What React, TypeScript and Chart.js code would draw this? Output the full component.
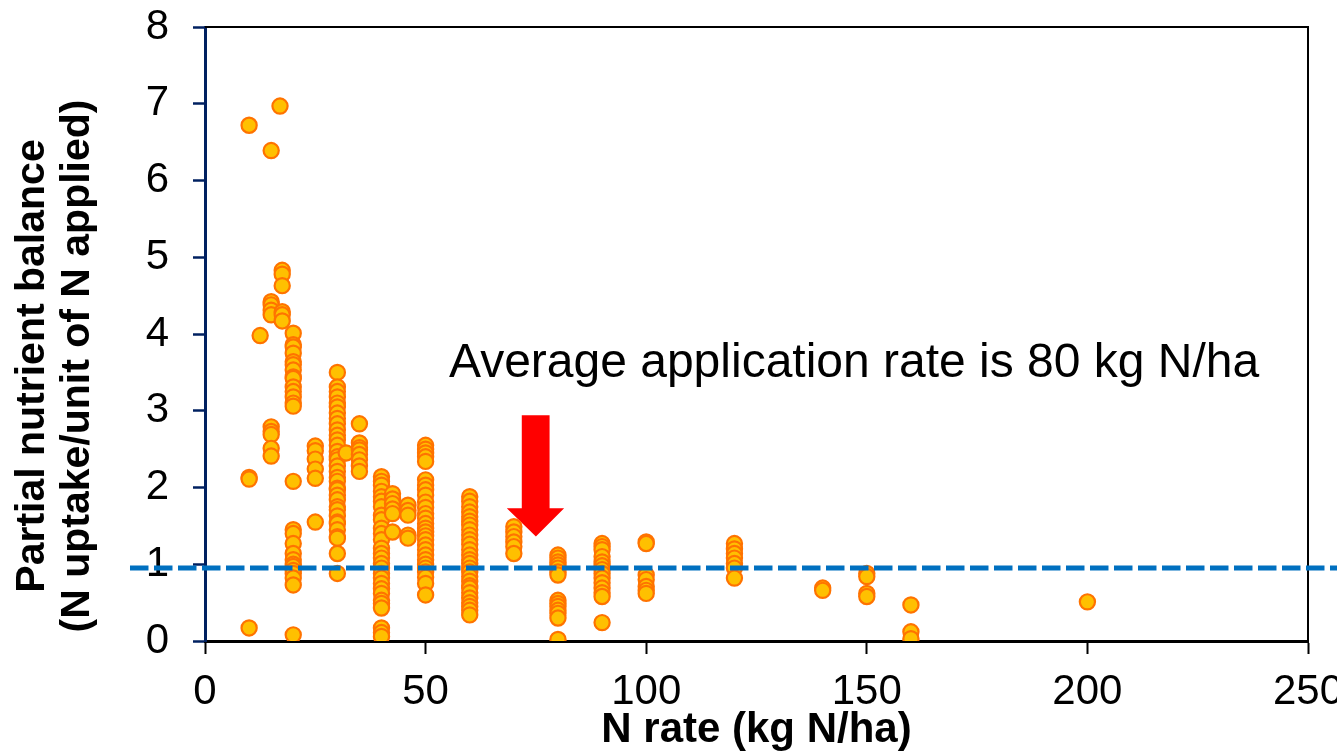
import React, { useEffect, useRef } from 'react';
import { Chart, registerables } from 'chart.js';

Chart.register(...registerables);

// N application rates (kg N/ha), one column of points per rate
const rates: number[] = [10, 12.5, 15, 17, 17.5, 20, 25, 30, 32, 35, 40, 42.5, 46, 50, 60, 70, 80, 90, 100, 120, 140, 150, 160, 200];

// Partial nutrient balance values observed at each rate (same order as rates)
const balanceByRate: number[][] = [
  [6.72, 2.13, 2.11, 0.17],
  [3.98],
  [6.39, 4.42, 4.38, 4.31, 4.25, 2.79, 2.73, 2.69, 2.51, 2.41],
  [6.97],
  [4.83, 4.78, 4.63, 4.29, 4.25, 4.17],
  [4.01, 3.86, 3.83, 3.75, 3.64, 3.6, 3.53, 3.44, 3.42, 3.31, 3.25, 3.18, 3.1, 3.06, 2.08, 1.45, 1.4, 1.27, 1.14, 1.06, 1.0, 0.97, 0.92, 0.88, 0.82, 0.73, 0.08],
  [2.54, 2.48, 2.37, 2.24, 2.12, 1.55],
  [3.5, 3.31, 3.25, 3.18, 3.1, 3.05, 2.97, 2.9, 2.83, 2.75, 2.68, 2.62, 2.55, 2.47, 2.4, 2.36, 2.28, 2.21, 2.13, 2.08, 1.99, 1.97, 1.9, 1.84, 1.75, 1.71, 1.63, 1.55, 1.53, 1.45, 1.36, 1.34, 1.14, 0.88],
  [2.45],
  [2.83, 2.58, 2.52, 2.49, 2.43, 2.36, 2.28, 2.21],
  [2.14, 2.08, 2.03, 1.95, 1.88, 1.82, 1.75, 1.64, 1.58, 1.47, 1.4, 1.32, 1.21, 1.14, 1.08, 1.01, 0.95, 0.88, 0.82, 0.75, 0.68, 0.62, 0.53, 0.49, 0.43, 0.17, 0.11, 0.06],
  [1.92, 1.85, 1.79, 1.72, 1.66, 1.42],
  [1.77, 1.7, 1.64, 1.38, 1.34],
  [2.55, 2.5, 2.45, 2.4, 2.34, 2.1, 2.03, 1.97, 1.9, 1.81, 1.74, 1.66, 1.6, 1.53, 1.47, 1.42, 1.37, 1.32, 1.25, 1.19, 1.12, 1.06, 1.0, 0.95, 0.9, 0.83, 0.75, 0.6],
  [1.88, 1.82, 1.75, 1.68, 1.62, 1.56, 1.51, 1.45, 1.38, 1.32, 1.26, 1.19, 1.12, 1.06, 1.01, 0.95, 0.9, 0.84, 0.78, 0.72, 0.69, 0.63, 0.56, 0.5, 0.45, 0.4, 0.34],
  [1.49, 1.42, 1.36, 1.29, 1.23, 1.14],
  [1.12, 1.08, 1.03, 0.99, 0.95, 0.9, 0.86, 0.53, 0.49, 0.45, 0.4, 0.36, 0.3, 0.02],
  [1.27, 1.23, 1.19, 1.1, 1.03, 0.98, 0.93, 0.88, 0.82, 0.76, 0.69, 0.63, 0.58, 0.24],
  [1.29, 1.27, 0.86, 0.8, 0.71, 0.66, 0.62],
  [1.27, 1.2, 1.14, 1.08, 1.01, 0.95, 0.82],
  [0.69, 0.66],
  [0.88, 0.84, 0.62, 0.58],
  [0.47, 0.12, 0.03],
  [0.51],
];

const xMin = 0;
const xMax = 250;
const xStep = 50;
const yMin = 0;
const yMax = 8;
const yStep = 1;

const xTitle = 'N rate (kg N/ha)';
const yTitle = ['Partial nutrient balance', '(N uptake/unit of N applied)'];

// Reference line (PNB ~ 1) and annotation
const referenceLevel = 0.95;
const referenceStartX = -17;
const annotationText = 'Average application rate is 80 kg N/ha';
const annotationX = 55.3;
const annotationY = 3.44;
// Arrow geometry in data units
const arrowTipX = 75;
const arrowTipY = 1.36;
const arrowTopY = 2.94;
const arrowHeadBaseY = 1.73;
const arrowShaftLeft = 71.8;
const arrowShaftRight = 78.1;
const arrowHeadLeft = 68.4;
const arrowHeadRight = 81.4;

const FONT = '"Liberation Sans", Arial, sans-serif';

const overlayPlugin = {
  id: 'overlay',
  beforeDatasetsDraw(chart: any) {
    const { ctx, chartArea: a, scales } = chart;
    const x = scales.x;
    const y = scales.y;
    ctx.save();
    // frame (top + right)
    ctx.strokeStyle = '#000000';
    ctx.lineWidth = 2;
    ctx.beginPath();
    ctx.moveTo(a.left, a.top);
    ctx.lineTo(a.right, a.top);
    ctx.lineTo(a.right, a.bottom);
    ctx.stroke();
    // annotation text
    ctx.fillStyle = '#000000';
    ctx.font = `48px ${FONT}`;
    ctx.textAlign = 'left';
    ctx.textBaseline = 'alphabetic';
    ctx.fillText(annotationText, x.getPixelForValue(annotationX), y.getPixelForValue(annotationY));
    // arrow
    const px = (v: number) => x.getPixelForValue(v);
    const py = (v: number) => y.getPixelForValue(v);
    ctx.fillStyle = '#FF0000';
    ctx.beginPath();
    ctx.moveTo(px(arrowShaftLeft), py(arrowTopY));
    ctx.lineTo(px(arrowShaftRight), py(arrowTopY));
    ctx.lineTo(px(arrowShaftRight), py(arrowHeadBaseY));
    ctx.lineTo(px(arrowHeadRight), py(arrowHeadBaseY));
    ctx.lineTo(px(arrowTipX), py(arrowTipY));
    ctx.lineTo(px(arrowHeadLeft), py(arrowHeadBaseY));
    ctx.lineTo(px(arrowShaftLeft), py(arrowHeadBaseY));
    ctx.closePath();
    ctx.fill();
    // y-axis title (two centred lines, rotated)
    ctx.fillStyle = '#000000';
    ctx.translate(0, 366);
    ctx.rotate(-Math.PI / 2);
    ctx.font = `bold 41px ${FONT}`;
    ctx.textAlign = 'center';
    ctx.textBaseline = 'alphabetic';
    ctx.fillText(yTitle[0], 0, 44);
    ctx.fillText(yTitle[1], 0, 89);
    ctx.restore();
  },
  afterDatasetsDraw(chart: any) {
    const { ctx, scales, width } = chart;
    const x = scales.x;
    const y = scales.y;
    ctx.save();
    const yy = y.getPixelForValue(referenceLevel);
    ctx.strokeStyle = '#0070C0';
    ctx.lineWidth = 5;
    ctx.setLineDash([18.5, 5.5]);
    ctx.beginPath();
    ctx.moveTo(x.getPixelForValue(referenceStartX), yy);
    ctx.lineTo(width, yy);
    ctx.stroke();
    ctx.restore();
  },
};

export default function App() {
  const canvasRef = useRef<HTMLCanvasElement | null>(null);

  useEffect(() => {
    const canvas = canvasRef.current;
    if (!canvas) return;
    const points: { x: number; y: number }[] = [];
    rates.forEach((r, i) => {
      balanceByRate[i].forEach((v) => points.push({ x: r, y: v }));
    });

    const chart = new Chart(canvas, {
      type: 'scatter',
      data: {
        datasets: [
          {
            label: 'PNB',
            data: points,
            backgroundColor: '#FFC000',
            borderColor: '#FF7300',
            pointBackgroundColor: '#FFC000',
            pointBorderColor: '#FF7300',
            pointBorderWidth: 2.2,
            pointRadius: 7.6,
            pointHoverRadius: 7.6,
          },
        ],
      },
      options: {
        responsive: false,
        animation: false,
        devicePixelRatio: 1,
        layout: { padding: { left: 0, right: 29, top: 27, bottom: 0 } },
        plugins: {
          legend: { display: false },
          tooltip: { enabled: false },
        },
        scales: {
          x: {
            type: 'linear',
            min: xMin,
            max: xMax,
            ticks: {
              stepSize: xStep,
              color: '#000000',
              padding: 13,
              font: { family: FONT, size: 42 },
            },
            grid: {
              drawOnChartArea: false,
              drawTicks: true,
              tickLength: 13,
              tickColor: '#000000',
              tickWidth: 2,
            },
            border: { color: '#000000', width: 3 },
            title: {
              display: true,
              text: xTitle,
              color: '#000000',
              font: { family: FONT, size: 42, weight: 'bold', lineHeight: 1.0 },
              padding: { top: 0, bottom: 1.5 },
            },
            afterFit: (s: any) => {
              s.height = 112;
              s.paddingLeft = 0;
              s.paddingRight = 0;
            },
          },
          y: {
            type: 'linear',
            min: yMin,
            max: yMax,
            ticks: {
              stepSize: yStep,
              color: '#000000',
              padding: 24,
              font: { family: FONT, size: 42 },
            },
            grid: {
              drawOnChartArea: false,
              drawTicks: true,
              tickLength: 12,
              tickColor: '#002060',
              tickWidth: 2.5,
            },
            border: { color: '#002060', width: 3 },
            title: { display: false },
            afterFit: (s: any) => {
              s.width = 205;
              s.paddingTop = 0;
              s.paddingBottom = 0;
            },
          },
        },
      } as any,
      plugins: [overlayPlugin],
    });
    return () => chart.destroy();
  }, []);

  return (
    <div style={{ position: 'fixed', left: 0, top: 0, width: 1337, height: 753, overflow: 'hidden', background: '#ffffff' }}>
      <canvas ref={canvasRef} width={1337} height={753} style={{ width: 1337, height: 753, display: 'block' }} />
    </div>
  );
}
